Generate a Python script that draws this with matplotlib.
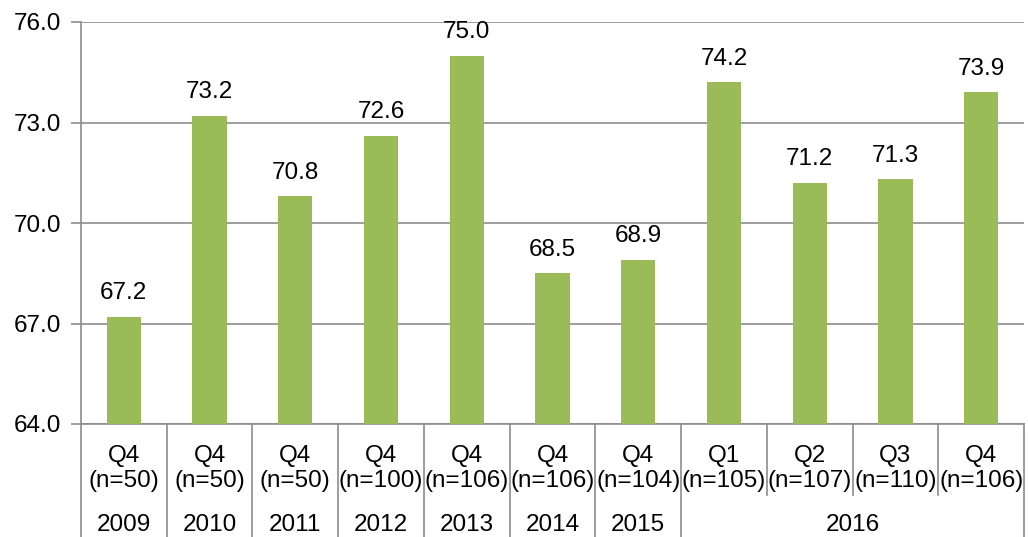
import matplotlib
matplotlib.use("Agg")
import matplotlib.pyplot as plt
from matplotlib.lines import Line2D

quarters = ["Q4", "Q4", "Q4", "Q4", "Q4", "Q4", "Q4", "Q1", "Q2", "Q3", "Q4"]
samples = ["(n=50)", "(n=50)", "(n=50)", "(n=100)", "(n=106)", "(n=106)",
           "(n=104)", "(n=105)", "(n=107)", "(n=110)", "(n=106)"]
years = ["2009", "2010", "2011", "2012", "2013", "2014", "2015", "2016"]
year_spans = [1, 1, 1, 1, 1, 1, 1, 4]
values = [67.2, 73.2, 70.8, 72.6, 75.0, 68.5, 68.9, 74.2, 71.2, 71.3, 73.9]
yticks = [64.0, 67.0, 70.0, 73.0, 76.0]

plt.rcParams['font.family'] = ['Liberation Sans', 'DejaVu Sans']
FS = 17.5
W, H = 1028, 537
fig = plt.figure(figsize=(W / 100, H / 100), dpi=100)
L, R, T, B = 81, 1024, 22, 424
ax = fig.add_axes([L / W, 1 - B / H, (R - L) / W, (B - T) / H])

grey = "#8c8c8c"
n = len(values)
x = list(range(n))
ax.bar(x, values, width=0.4, color="#9BBB59", zorder=3, bottom=0)
ax.set_xlim(-0.5, n - 0.5)
ax.set_ylim(64, 76)
ax.set_yticks(yticks)
ax.set_yticklabels([f"{v:.1f}" for v in yticks], fontsize=FS)
ax.tick_params(axis='y', length=7, color=grey, width=1.2, pad=7.5)
ax.set_xticks([])
ax.yaxis.grid(True, color=grey, linewidth=1.2, zorder=0)
for s in ["top", "right"]:
    ax.spines[s].set_visible(False)
for s in ["left", "bottom"]:
    ax.spines[s].set_color(grey)
    ax.spines[s].set_linewidth(1.2)

for xi, v in zip(x, values):
    ax.annotate(f"{v:.1f}", (xi, v), xytext=(0, 9), textcoords="offset points",
                ha="center", va="bottom", fontsize=FS)

tr = ax.get_xaxis_transform()
ah = B - T
def yf(py):
    return -(py - B) / ah

for xi in x:
    ax.text(xi, yf(456), quarters[xi], transform=tr, ha="center", va="center", fontsize=FS)
    ax.text(xi, yf(481), samples[xi], transform=tr, ha="center", va="center", fontsize=FS)

# year labels and separators
pos = 0
bottom_full = yf(H + 5)
bottom_short = yf(495)
ax.add_line(Line2D([-0.5, -0.5], [0, bottom_full], transform=tr, color=grey,
                   lw=1.2, clip_on=False))
for yr, span in zip(years, year_spans):
    center = pos + (span - 1) / 2
    ax.text(center, yf(525), yr, transform=tr, ha="center", va="center", fontsize=FS)
    for k in range(1, span):
        xs = pos + k - 0.5
        ax.add_line(Line2D([xs, xs], [0, bottom_short], transform=tr, color=grey,
                           lw=1.2, clip_on=False))
    pos += span
    xe = pos - 0.5
    ax.add_line(Line2D([xe, xe], [0, bottom_full], transform=tr, color=grey,
                       lw=1.2, clip_on=False))

fig.savefig("out.png", dpi=100)
